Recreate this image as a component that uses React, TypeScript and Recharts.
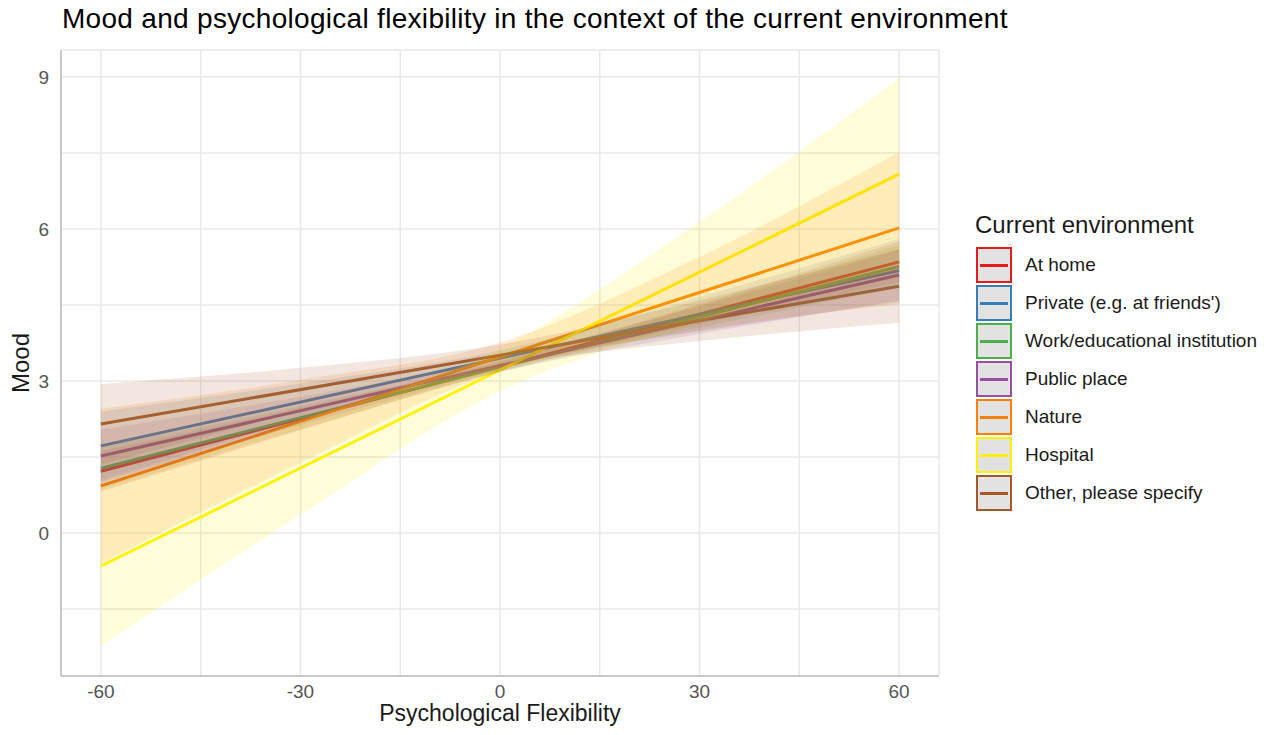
import React from "react";
import {
  ComposedChart,
  Line,
  Area,
  XAxis,
  YAxis,
  CartesianGrid,
} from "recharts";

// groups / colours (legend order)
const groups = [
  "At home",
  "Private (e.g. at friends')",
  "Work/educational institution",
  "Public place",
  "Nature",
  "Hospital",
  "Other, please specify",
];
const colors = ["#E41A1C", "#377EB8", "#4DAF4A", "#984EA3", "#FF7F00", "#FFF200", "#A65628"];

// fitted line values at x = -60 and x = 60
const fitStart = [1.22, 1.72, 1.28, 1.52, 0.93, -0.65, 2.15];
const fitEnd = [5.35, 5.18, 5.26, 5.09, 6.02, 7.08, 4.87];

// confidence band read at these x positions
const bandX = [-60, -30, 0, 30, 60];
const bandLow = [
  [0.82, 2.03, 3.19, 4.12, 4.95],
  [1.04, 2.23, 3.3, 3.98, 4.56],
  [0.86, 2.05, 3.17, 4.05, 4.84],
  [1.0, 2.13, 3.18, 3.93, 4.59],
  [-0.6, 1.38, 3.2, 4.0, 4.52],
  [-2.23, 0.36, 2.8, 4.16, 5.2],
  [1.35, 2.4, 3.3, 3.79, 4.15],
];
const bandHigh = [
  [1.62, 2.47, 3.39, 4.52, 5.75],
  [2.4, 2.95, 3.6, 4.66, 5.8],
  [1.7, 2.51, 3.37, 4.49, 5.68],
  [2.04, 2.69, 3.44, 4.47, 5.59],
  [2.45, 3.02, 3.76, 5.45, 7.52],
  [0.9, 2.2, 3.64, 6.14, 8.98],
  [2.94, 3.26, 3.72, 4.59, 5.6],
];

const xTicks = [-60, -45, -30, -15, 0, 15, 30, 45, 60];
const yTicks = [-1.5, 0, 1.5, 3, 4.5, 6, 7.5, 9];

const data = bandX.map((x, i) => {
  const row: any = { x };
  groups.forEach((_, g) => {
    row["band" + g] = [bandLow[g][i], bandHigh[g][i]];
    if (i === 0) row["fit" + g] = fitStart[g];
    if (i === bandX.length - 1) row["fit" + g] = fitEnd[g];
  });
  return row;
});

const font = "'Liberation Sans', Arial, Helvetica, sans-serif";

export default function App() {
  return (
    <div style={{ position: "relative", width: 1256, height: 719, fontFamily: font }}>
      <div
        style={{
          position: "absolute",
          left: 54,
          top: -3,
          fontSize: 28,
          lineHeight: "28px",
          letterSpacing: 0.3,
          color: "#000",
          whiteSpace: "nowrap",
        }}
      >
        Mood and psychological flexibility in the context of the current environment
      </div>

      <ComposedChart
        width={1256}
        height={719}
        data={data}
        margin={{ top: 42, right: 325, bottom: 0, left: 0 }}
      >
        <CartesianGrid stroke="#E8E8E8" strokeWidth={1.5} />
        <XAxis
          dataKey="x"
          type="number"
          domain={[-66, 66]}
          ticks={xTicks}
          interval={0}
          tickFormatter={(v: number) => (v % 30 === 0 ? String(v) : "")}
          height={51}
          tickLine={false}
          tickSize={0}
          tickMargin={9}
          axisLine={{ stroke: "#BEBEBE", strokeWidth: 1.6 }}
          tick={{ fill: "#555", fontSize: 19 }}
        />
        <YAxis
          type="number"
          domain={[-2.82, 9.53]}
          ticks={yTicks}
          interval={0}
          tickFormatter={(v: number) => (v % 3 === 0 ? String(v) : "")}
          width={53}
          tickLine={false}
          tickSize={0}
          tickMargin={12}
          axisLine={{ stroke: "#BEBEBE", strokeWidth: 1.6 }}
          tick={{ fill: "#555", fontSize: 19 }}
          label={{
            value: "Mood",
            angle: -90,
            position: "insideLeft",
            offset: 12,
            style: { fontSize: 24, fill: "#1a1a1a", textAnchor: "middle" },
          }}
        />
        {groups.map((g, i) => (
          <Line
            key={"l" + g}
            dataKey={"fit" + i}
            stroke={colors[i]}
            strokeWidth={3}
            dot={false}
            activeDot={false}
            connectNulls
            zIndex={50}
            isAnimationActive={false}
          />
        ))}
        {groups.map((g, i) => (
          <Area
            key={"a" + g}
            dataKey={"band" + i}
            type="monotone"
            stroke="none"
            fill={colors[i]}
            fillOpacity={0.15}
            activeDot={false}
            zIndex={100}
            isAnimationActive={false}
          />
        ))}
      </ComposedChart>

      <div
        style={{
          position: "absolute",
          left: 53,
          width: 878,
          top: 694,
          textAlign: "center",
          fontSize: 23,
          lineHeight: "23px",
          color: "#1a1a1a",
          whiteSpace: "nowrap",
        }}
      >
        Psychological Flexibility
      </div>

      <div
        style={{
          position: "absolute",
          left: 967,
          top: 205,
          fontSize: 24,
          lineHeight: "24px",
          color: "#1a1a1a",
          whiteSpace: "nowrap",
        }}
      >
        Current environment
      </div>
      {groups.map((g, i) => (
        <div
          key={"k" + g}
          style={{
            position: "absolute",
            left: 968,
            top: 239 + i * 38,
            height: 36,
            display: "flex",
            alignItems: "center",
            whiteSpace: "nowrap",
          }}
        >
          <div
            style={{
              width: 32,
              height: 32,
              border: `2px solid ${colors[i]}`,
              background: "#E2E2E2",
              position: "relative",
            }}
          >
            <div
              style={{
                position: "absolute",
                left: 2,
                right: 2,
                top: 14.5,
                height: 3,
                background: colors[i],
              }}
            />
          </div>
          <span style={{ marginLeft: 13, fontSize: 19, color: "#1a1a1a" }}>{g}</span>
        </div>
      ))}
    </div>
  );
}
